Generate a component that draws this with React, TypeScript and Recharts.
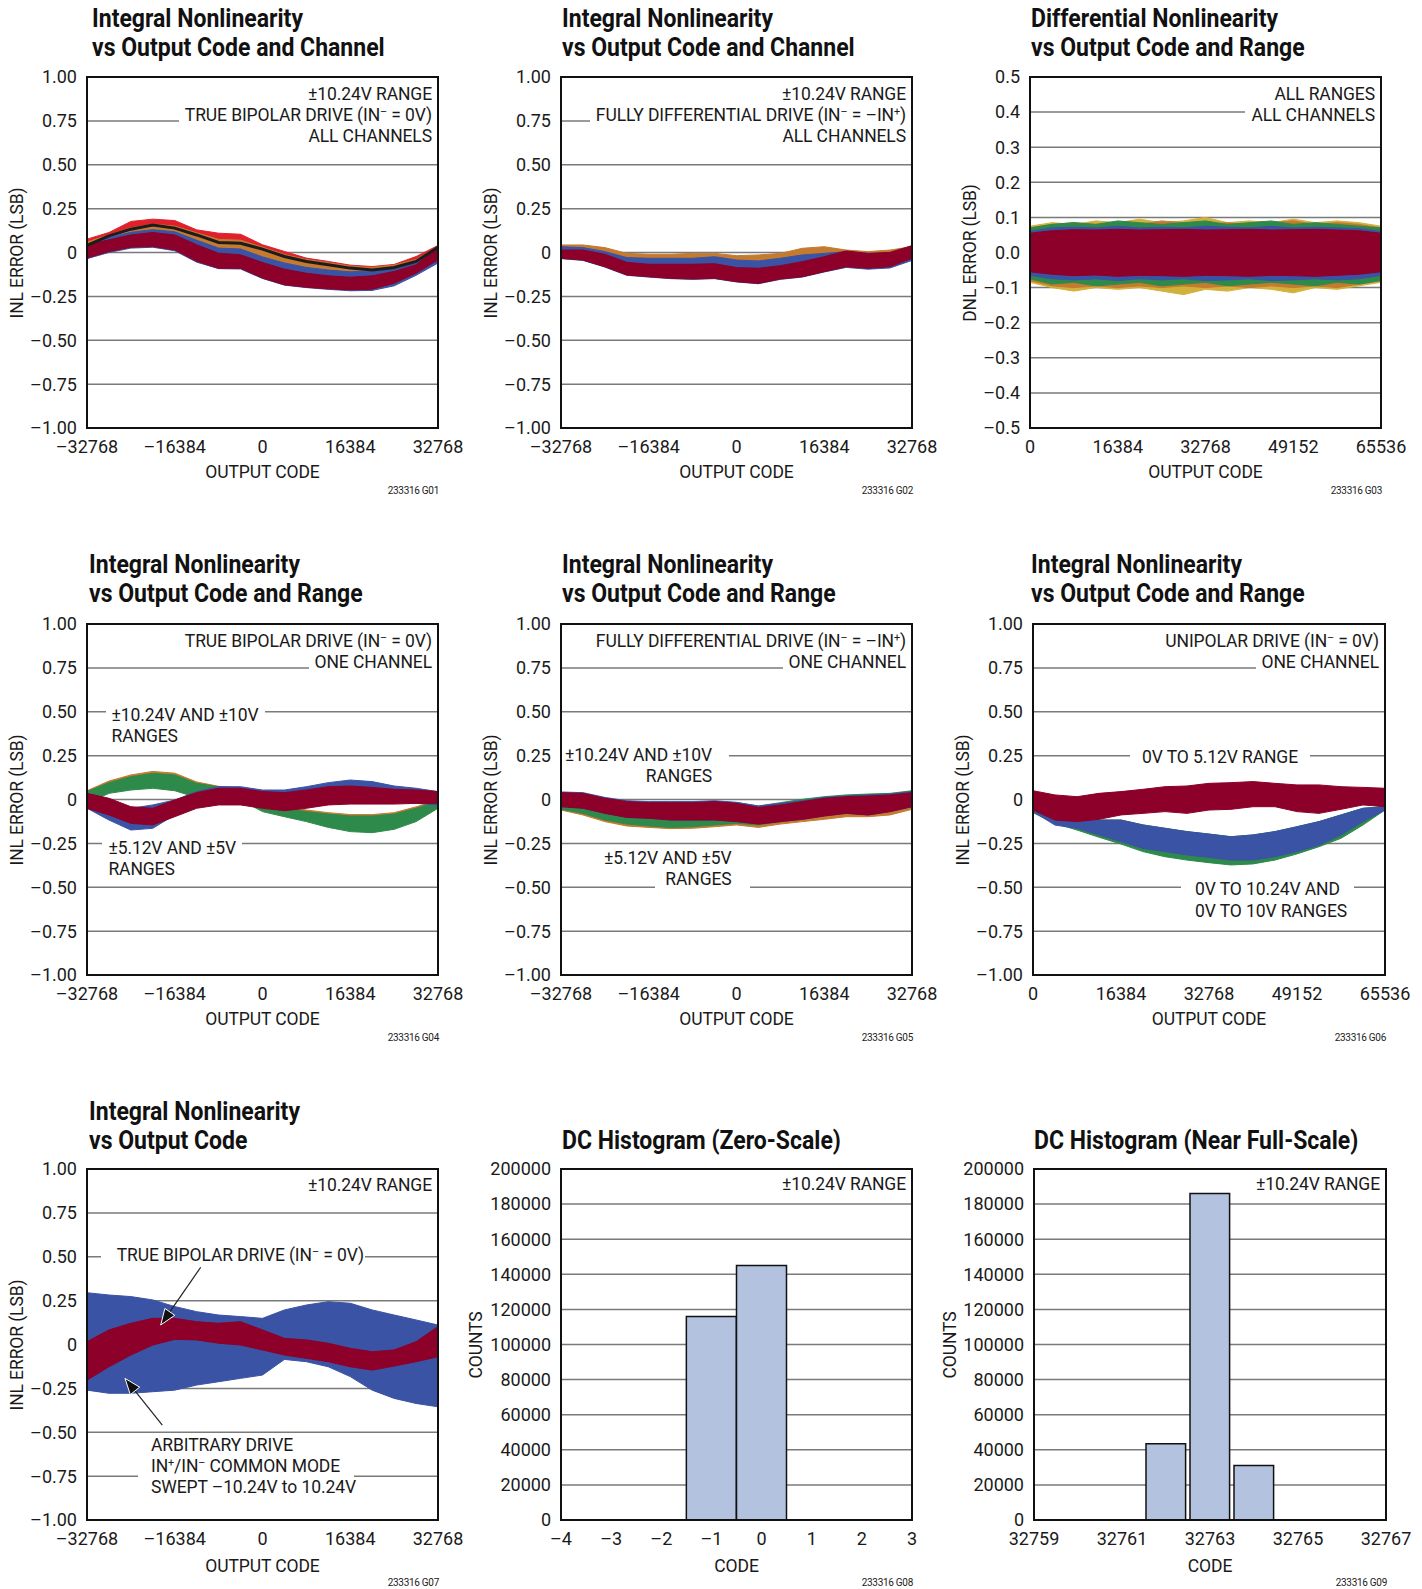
import React from "react";
import {
  ComposedChart,
  Area,
  Line,
  Bar,
  XAxis,
  YAxis,
  CartesianGrid,
  ReferenceLine,
} from "recharts";

const FONT = "Roboto, 'Liberation Sans', sans-serif";

const DARK_RED = "#8c0029";
const BLUE = "#3a53a4";
const RED = "#e0212c";
const ORANGE = "#c47a2f";
const GREEN = "#2e8a4b";
const YELLOW = "#d3b03a";
const BLACK = "#1c1c1c";
const BAR_FILL = "#b2c2df";

// x sample positions (output codes)
const bipolarCodes = [
  -32768, -28672, -24576, -20480, -16384, -12288, -8192, -4096, 0, 4096, 8192,
  12288, 16384, 20480, 24576, 28672, 32768,
];
const unipolarCodes = [
  0, 4096, 8192, 12288, 16384, 20480, 24576, 28672, 32768, 36864, 40960, 45056,
  49152, 53248, 57344, 61440, 65536,
];
const bipolarTicks = [-32768, -16384, 0, 16384, 32768];
const unipolarTicks = [0, 16384, 32768, 49152, 65536];
const inlTicks = [-1, -0.75, -0.5, -0.25, 0, 0.25, 0.5, 0.75, 1];
const dnlTicks = [-0.5, -0.4, -0.3, -0.2, -0.1, 0, 0.1, 0.2, 0.3, 0.4, 0.5];
const countTicks = [
  0, 20000, 40000, 60000, 80000, 100000, 120000, 140000, 160000, 180000, 200000,
];
const zeroTicks = [-4, -3, -2, -1, 0, 1, 2, 3];
const fullTicks = [32759, 32761, 32763, 32765, 32767];

// G01: INL vs code and channel, true bipolar
const g01Top = [0.076, 0.114, 0.177, 0.19, 0.182, 0.129, 0.11, 0.104, 0.044, 0.006, -0.032, -0.051, -0.072, -0.08, -0.068, -0.023, 0.04];
const g01Orange = [0.06, 0.1, 0.14, 0.162, 0.15, 0.112, 0.075, 0.07, 0.03, -0.012, -0.04, -0.058, -0.078, -0.086, -0.072, -0.04, 0.036];
const g01Black = [0.04, 0.095, 0.133, 0.156, 0.139, 0.1, 0.057, 0.053, 0.019, -0.023, -0.051, -0.07, -0.089, -0.099, -0.085, -0.051, 0.03];
const g01BlueHi = [0.045, 0.085, 0.115, 0.13, 0.118, 0.07, 0.025, 0.02, -0.025, -0.06, -0.085, -0.1, -0.11, -0.105, -0.085, -0.05, 0.035];
const g01BlueLo = [-0.035, 0.0, 0.025, 0.03, 0.01, -0.055, -0.092, -0.094, -0.148, -0.186, -0.2, -0.21, -0.218, -0.216, -0.19, -0.13, -0.06];
const g01DarkHi = [0.044, 0.072, 0.1, 0.114, 0.1, 0.044, -0.004, -0.013, -0.057, -0.095, -0.118, -0.133, -0.141, -0.133, -0.108, -0.07, 0.03];
const g01DarkLo = [-0.032, 0.006, 0.03, 0.034, 0.015, -0.05, -0.09, -0.09, -0.146, -0.184, -0.198, -0.207, -0.213, -0.209, -0.175, -0.118, -0.042];

// G02: INL vs code and channel, fully differential
const g02Top = [0.043, 0.043, 0.028, -0.005, -0.01, -0.01, -0.005, -0.005, -0.018, -0.014, -0.005, 0.024, 0.033, 0.014, 0.005, 0.014, 0.033];
const g02BlueHi = [0.033, 0.028, 0.005, -0.029, -0.033, -0.033, -0.033, -0.024, -0.043, -0.048, -0.033, -0.014, -0.005, 0.005, -0.005, -0.005, 0.024];
const g02BlueLo = [-0.035, -0.045, -0.083, -0.13, -0.14, -0.149, -0.153, -0.149, -0.168, -0.178, -0.153, -0.14, -0.111, -0.085, -0.095, -0.088, -0.045];
const g02DarkHi = [0.014, 0.014, -0.01, -0.056, -0.067, -0.067, -0.067, -0.064, -0.086, -0.09, -0.075, -0.052, -0.024, 0.009, -0.005, 0.001, 0.039];
const g02DarkLo = [-0.033, -0.043, -0.081, -0.128, -0.138, -0.147, -0.151, -0.147, -0.166, -0.176, -0.151, -0.138, -0.109, -0.081, -0.09, -0.081, -0.033];

// G03: DNL vs code and range
const g03YellowHi = [0.075, 0.085, 0.08, 0.09, 0.085, 0.095, 0.085, 0.09, 0.1, 0.085, 0.09, 0.085, 0.095, 0.085, 0.09, 0.085, 0.075];
const g03YellowLo = [-0.085, -0.1, -0.11, -0.1, -0.105, -0.1, -0.11, -0.12, -0.105, -0.11, -0.1, -0.105, -0.115, -0.1, -0.105, -0.095, -0.085];
const g03OrangeHi = [0.07, 0.08, 0.085, 0.08, 0.085, 0.08, 0.09, 0.085, 0.08, 0.085, 0.08, 0.085, 0.09, 0.08, 0.085, 0.08, 0.07];
const g03OrangeLo = [-0.08, -0.095, -0.1, -0.095, -0.1, -0.095, -0.1, -0.095, -0.1, -0.095, -0.1, -0.095, -0.1, -0.095, -0.1, -0.09, -0.08];
const g03GreenHi = [0.07, 0.08, 0.085, 0.08, 0.09, 0.085, 0.08, 0.085, 0.09, 0.08, 0.085, 0.09, 0.08, 0.085, 0.08, 0.075, 0.07];
const g03GreenLo = [-0.075, -0.09, -0.085, -0.095, -0.09, -0.085, -0.095, -0.09, -0.085, -0.095, -0.09, -0.085, -0.09, -0.095, -0.085, -0.09, -0.08];
const g03BlueHi = [0.06, 0.07, 0.072, 0.07, 0.075, 0.07, 0.072, 0.07, 0.075, 0.072, 0.07, 0.075, 0.07, 0.072, 0.07, 0.068, 0.06];
const g03BlueLo = [-0.065, -0.075, -0.078, -0.075, -0.08, -0.075, -0.078, -0.075, -0.08, -0.078, -0.075, -0.08, -0.078, -0.075, -0.078, -0.075, -0.065];
const g03DarkHi = [0.055, 0.062, 0.065, 0.064, 0.066, 0.064, 0.065, 0.066, 0.064, 0.065, 0.066, 0.064, 0.065, 0.066, 0.064, 0.062, 0.055];
const g03DarkLo = [-0.055, -0.062, -0.066, -0.064, -0.068, -0.065, -0.066, -0.068, -0.065, -0.066, -0.068, -0.065, -0.066, -0.068, -0.065, -0.062, -0.055];

// G04: INL vs code and range, true bipolar
const g04OrangeHi = [0.05, 0.105, 0.14, 0.16, 0.15, 0.1, 0.075, 0.066, -0.015, -0.042, -0.06, -0.075, -0.086, -0.086, -0.075, -0.042, -0.005];
const g04OrangeLo = [0.0, 0.05, 0.08, 0.1, 0.09, 0.04, 0.02, 0.01, -0.04, -0.07, -0.09, -0.105, -0.115, -0.115, -0.105, -0.07, -0.02];
const g04GreenHi = [0.045, 0.096, 0.13, 0.149, 0.14, 0.092, 0.073, 0.064, -0.022, -0.05, -0.069, -0.083, -0.094, -0.094, -0.083, -0.05, -0.012];
const g04GreenLo = [-0.022, 0.035, 0.054, 0.064, 0.05, 0.012, 0.007, -0.003, -0.069, -0.098, -0.126, -0.159, -0.183, -0.189, -0.17, -0.126, -0.05];
const g04BlueHi = [0.016, -0.022, -0.05, -0.031, -0.003, 0.045, 0.073, 0.073, 0.054, 0.054, 0.073, 0.096, 0.111, 0.102, 0.077, 0.064, 0.045];
const g04BlueLo = [-0.05, -0.117, -0.174, -0.164, -0.088, -0.041, -0.022, -0.022, -0.041, -0.05, -0.041, -0.022, -0.012, -0.012, -0.018, -0.022, -0.031];
const g04DarkHi = [0.035, 0.007, -0.041, -0.05, -0.003, 0.039, 0.064, 0.064, 0.045, 0.039, 0.054, 0.073, 0.077, 0.069, 0.058, 0.054, 0.045];
const g04DarkLo = [-0.05, -0.088, -0.136, -0.145, -0.098, -0.05, -0.031, -0.031, -0.05, -0.064, -0.05, -0.031, -0.026, -0.026, -0.026, -0.022, -0.022];

// G05: INL vs code and range, fully differential
const g05OrangeLo = [-0.06, -0.088, -0.126, -0.151, -0.159, -0.166, -0.164, -0.155, -0.145, -0.159, -0.14, -0.126, -0.113, -0.098, -0.098, -0.088, -0.056];
const g05GreenHi = [0.035, 0.026, -0.003, -0.022, -0.026, -0.022, -0.018, -0.014, -0.018, -0.037, -0.018, 0.001, 0.016, 0.026, 0.031, 0.035, 0.05];
const g05GreenLo = [-0.056, -0.079, -0.117, -0.14, -0.151, -0.159, -0.155, -0.145, -0.136, -0.145, -0.126, -0.107, -0.088, -0.069, -0.069, -0.06, -0.031];
const g05BlueHi = [0.043, 0.039, 0.012, -0.007, -0.012, -0.012, -0.012, -0.007, -0.016, -0.037, -0.022, -0.007, 0.012, 0.02, 0.026, 0.031, 0.045];
const g05DarkHi = [0.039, 0.035, 0.007, -0.012, -0.018, -0.018, -0.018, -0.012, -0.022, -0.045, -0.031, -0.012, 0.007, 0.016, 0.02, 0.026, 0.039];
const g05DarkLo = [-0.041, -0.05, -0.079, -0.102, -0.107, -0.117, -0.117, -0.117, -0.126, -0.14, -0.126, -0.113, -0.094, -0.079, -0.088, -0.069, -0.041];

// G06: INL vs code and range, unipolar
const g06GreenLo = [-0.075, -0.136, -0.174, -0.215, -0.254, -0.297, -0.326, -0.345, -0.36, -0.373, -0.367, -0.345, -0.31, -0.269, -0.221, -0.145, -0.06];
const g06BlueHi = [-0.041, -0.098, -0.117, -0.117, -0.117, -0.145, -0.164, -0.183, -0.197, -0.212, -0.202, -0.183, -0.155, -0.126, -0.088, -0.05, -0.041];
const g06BlueLo = [-0.069, -0.146, -0.164, -0.202, -0.24, -0.279, -0.297, -0.316, -0.33, -0.345, -0.345, -0.326, -0.297, -0.26, -0.202, -0.126, -0.06];
const g06DarkHi = [0.05, 0.026, 0.016, 0.035, 0.045, 0.058, 0.073, 0.077, 0.092, 0.096, 0.102, 0.092, 0.083, 0.083, 0.073, 0.069, 0.064];
const g06DarkLo = [-0.06, -0.117, -0.126, -0.113, -0.088, -0.079, -0.069, -0.079, -0.06, -0.056, -0.041, -0.041, -0.069, -0.079, -0.056, -0.031, -0.041];

// G07: INL vs code, arbitrary vs true bipolar drive
const g07BlueHi = [0.295, 0.282, 0.273, 0.254, 0.216, 0.187, 0.168, 0.159, 0.149, 0.197, 0.225, 0.244, 0.235, 0.197, 0.168, 0.14, 0.111];
const g07BlueLo = [-0.26, -0.278, -0.278, -0.269, -0.26, -0.231, -0.212, -0.193, -0.174, -0.085, -0.098, -0.127, -0.183, -0.26, -0.307, -0.336, -0.355];
const g07DarkHi = [0.016, 0.083, 0.121, 0.149, 0.149, 0.13, 0.121, 0.13, 0.083, 0.035, 0.026, 0.007, -0.022, -0.041, -0.031, 0.016, 0.102];
const g07DarkLo = [-0.203, -0.127, -0.06, -0.003, 0.029, 0.026, 0.007, -0.003, -0.031, -0.06, -0.079, -0.098, -0.127, -0.146, -0.123, -0.098, -0.07];

// G08 / G09: DC histograms
const zeroCodes = [-1, 0];
const zeroCounts = [116000, 145000];
const fullCodes = [32762, 32763, 32764];
const fullCounts = [43500, 186000, 31000];

// arrow annotations in G07 (tail, tip) in data units
const arrowBipolar = [
  { x: -11539, y: 0.44 },
  { x: -19008, y: 0.111 },
];
const arrowArbitrary = [
  { x: -18709, y: -0.459 },
  { x: -25673, y: -0.193 },
];

type Range = [number[], number[]];

function buildRows(
  codes: number[],
  bands: Record<string, Range>,
  lines: Record<string, number[]> = {}
) {
  return codes.map((code, i) => {
    const row: Record<string, any> = { code };
    Object.keys(bands).forEach((k) => {
      row[k] = [bands[k][0][i], bands[k][1][i]];
    });
    Object.keys(lines).forEach((k) => {
      row[k] = lines[k][i];
    });
    return row;
  });
}

const g01Rows = buildRows(
  bipolarCodes,
  {
    red: [g01DarkHi, g01Top],
    orange: [g01DarkHi, g01Orange],
    blue: [g01BlueLo, g01BlueHi],
    dark: [g01DarkLo, g01DarkHi],
  },
  { black: g01Black }
);
const g02Rows = buildRows(bipolarCodes, {
  orange: [g02DarkHi, g02Top],
  blue: [g02BlueLo, g02BlueHi],
  dark: [g02DarkLo, g02DarkHi],
});
const g03Rows = buildRows(unipolarCodes, {
  yellow: [g03YellowLo, g03YellowHi],
  orange: [g03OrangeLo, g03OrangeHi],
  green: [g03GreenLo, g03GreenHi],
  blue: [g03BlueLo, g03BlueHi],
  dark: [g03DarkLo, g03DarkHi],
});
const g04Rows = buildRows(bipolarCodes, {
  orange: [g04OrangeLo, g04OrangeHi],
  green: [g04GreenLo, g04GreenHi],
  blue: [g04BlueLo, g04BlueHi],
  dark: [g04DarkLo, g04DarkHi],
});
const g05Rows = buildRows(bipolarCodes, {
  orange: [g05OrangeLo, g05DarkHi],
  green: [g05GreenLo, g05GreenHi],
  blue: [g05DarkLo, g05BlueHi],
  dark: [g05DarkLo, g05DarkHi],
});
const g06Rows = buildRows(unipolarCodes, {
  green: [g06GreenLo, g06BlueHi],
  blue: [g06BlueLo, g06BlueHi],
  dark: [g06DarkLo, g06DarkHi],
});
const g07Rows = buildRows(bipolarCodes, {
  blue: [g07BlueLo, g07BlueHi],
  dark: [g07DarkLo, g07DarkHi],
});
const g08Rows = zeroCodes.map((code, i) => ({ code, counts: zeroCounts[i] }));
const g09Rows = fullCodes.map((code, i) => ({ code, counts: fullCounts[i] }));

const dash = (s: string) => s.replace("-", "\u2013");
const fmtCode = (v: number) => dash(String(v));
const fmtInl = (v: number) => (v === 0 ? "0" : dash(v.toFixed(2)));
const fmtDnl = (v: number) => dash(v.toFixed(1));
const fmtCount = (v: number) => String(v);

const band = (key: string, color: string) => (
  <Area
    key={key}
    type="linear"
    dataKey={key}
    stroke={color}
    strokeWidth={1}
    fill={color}
    fillOpacity={1}
    dot={false}
    activeDot={false}
    isAnimationActive={false}
  />
);

const Sup = ({ children }: { children: React.ReactNode }) => (
  <span style={{ fontSize: "0.62em", verticalAlign: "0.6em", lineHeight: 0 }}>
    {children}
  </span>
);

const arrowShape = (p: any) => {
  const { x1, y1, x2, y2 } = p;
  const a = Math.atan2(y2 - y1, x2 - x1);
  const len = 16;
  const half = 6;
  const bx = x2 - len * Math.cos(a);
  const by = y2 - len * Math.sin(a);
  const nx = -Math.sin(a) * half;
  const ny = Math.cos(a) * half;
  return (
    <g>
      <line x1={x1} y1={y1} x2={bx} y2={by} stroke="#222" strokeWidth={1.2} />
      <polygon
        points={`${x2},${y2} ${bx + nx},${by + ny} ${bx - nx},${by - ny}`}
        fill="#111"
        stroke="#fff"
        strokeWidth={1}
      />
    </g>
  );
};

type Note = {
  lines: React.ReactNode[];
  top: number;
  left?: number;
  right?: number;
  align: "left" | "right";
  pad: string;
  lineH?: number;
};

type PanelProps = {
  x: number;
  y: number;
  w: number;
  h: number;
  title: string[];
  titleX: number;
  titleY: number;
  yLabel: string;
  yLabelX: number;
  xLabel: string;
  xLabelDy: number;
  fig: string;
  data: any[];
  xDomain: [number, number];
  xTicks: number[];
  xFmt: (v: number) => string;
  yDomain: [number, number];
  yTicks: number[];
  yFmt: (v: number) => string;
  series: React.ReactNode[];
  notes: Note[];
};

const tickStyle = { fontSize: 18, fill: "#1a1a1a", fontFamily: FONT };
const textStyle: React.CSSProperties = {
  fontSize: 17.5,
  letterSpacing: "-0.1px",
  color: "#1a1a1a",
  whiteSpace: "nowrap",
};

function Panel(p: PanelProps) {
  return (
    <>
      <div
        style={{
          position: "absolute",
          left: p.titleX,
          top: p.titleY,
          fontSize: 26,
          fontWeight: 700,
          lineHeight: "28.5px",
          whiteSpace: "nowrap",
          color: "#111",
        }}
      >
        {p.title.map((t) => (
          <div key={t}>
            <span
              style={{
                display: "inline-block",
                transform: "scaleX(0.885)",
                transformOrigin: "0 0",
              }}
            >
              {t}
            </span>
          </div>
        ))}
      </div>
      <div style={{ position: "absolute", left: p.x - 80, top: p.y - 20 }}>
        <ComposedChart
          width={p.w + 140}
          height={p.h + 60}
          data={p.data}
          margin={{ top: 20, right: 60, bottom: 0, left: 0 }}
          barCategoryGap={0}
          barGap={0}
        >
          <CartesianGrid vertical={false} stroke="#7a7a7a" strokeWidth={1.5} />
          <XAxis
            dataKey="code"
            type="number"
            domain={p.xDomain}
            ticks={p.xTicks}
            tickFormatter={p.xFmt}
            interval={0}
            allowDataOverflow
            height={40}
            axisLine={false}
            tickLine={false}
            tickSize={6}
            tickMargin={6}
            tick={tickStyle}
          />
          <YAxis
            type="number"
            domain={p.yDomain}
            ticks={p.yTicks}
            tickFormatter={p.yFmt}
            interval={0}
            allowDataOverflow
            width={80}
            axisLine={false}
            tickLine={false}
            tickSize={6}
            tickMargin={4}
            tick={tickStyle}
          />
          {p.series}
        </ComposedChart>
      </div>
      <div
        style={{
          position: "absolute",
          left: p.x,
          top: p.y,
          width: p.w,
          height: p.h,
          ...textStyle,
        }}
      >
        {p.notes.map((n, i) => (
          <div
            key={i}
            style={{
              position: "absolute",
              top: n.top,
              left: n.left,
              right: n.right,
              textAlign: n.align,
              lineHeight: `${n.lineH ?? 21}px`,
            }}
          >
            {n.lines.map((l, j) => (
              <div key={j}>
                <span
                  style={{
                    background: "#fff",
                    padding: n.pad,
                    display: "inline-block",
                  }}
                >
                  {l}
                </span>
              </div>
            ))}
          </div>
        ))}
        <div
          style={{
            position: "absolute",
            left: -1,
            top: -1,
            width: p.w + 2,
            height: p.h + 2,
            border: "2px solid #111",
            boxSizing: "border-box",
          }}
        />
      </div>
      <div
        style={{
          position: "absolute",
          left: p.yLabelX,
          top: p.y + p.h / 2,
          transform: "translate(-50%, -50%) rotate(-90deg)",
          ...textStyle,
        }}
      >
        {p.yLabel}
      </div>
      <div
        style={{
          position: "absolute",
          left: p.x + p.w / 2,
          top: p.y + p.h + p.xLabelDy,
          transform: "translate(-50%, -50%)",
          ...textStyle,
        }}
      >
        {p.xLabel}
      </div>
      <div
        style={{
          position: "absolute",
          right: 1422 - (p.x + p.w + 1),
          top: p.y + p.h + 57,
          fontSize: 10,
          letterSpacing: "-0.3px",
          whiteSpace: "nowrap",
          color: "#222",
        }}
      >
        {p.fig}
      </div>
    </>
  );
}

const bipolarInl = {
  xDomain: [-32768, 32768] as [number, number],
  xTicks: bipolarTicks,
  xFmt: fmtCode,
  yDomain: [-1, 1] as [number, number],
  yTicks: inlTicks,
  yFmt: fmtInl,
  yLabel: "INL ERROR (LSB)",
  xLabel: "OUTPUT CODE",
  w: 351,
  h: 351,
};

const rangeNote = (top: number): Note => ({
  lines: ["\u00b110.24V RANGE"],
  top,
  right: 0,
  align: "right",
  pad: "0 6px",
});

export default function App() {
  return (
    <div
      style={{
        position: "absolute",
        left: 0,
        top: 0,
        width: 1422,
        height: 1589,
        background: "#fff",
        fontFamily: FONT,
        overflow: "hidden",
      }}
    >
      <Panel
        {...bipolarInl}
        x={87}
        y={77}
        title={["Integral Nonlinearity", "vs Output Code and Channel"]}
        titleX={92}
        titleY={4}
        yLabelX={17}
        xLabelDy={44}
        fig="233316 G01"
        data={g01Rows}
        series={[
          band("red", RED),
          band("orange", ORANGE),
          <Line
            key="black"
            type="linear"
            dataKey="black"
            stroke={BLACK}
            strokeWidth={3}
            dot={false}
            activeDot={false}
            isAnimationActive={false}
          />,
          band("blue", BLUE),
          band("dark", DARK_RED),
        ]}
        notes={[
          {
            lines: [
              "\u00b110.24V RANGE",
              <>
                TRUE BIPOLAR DRIVE (IN<Sup>{"\u2013"}</Sup> = 0V)
              </>,
              "ALL CHANNELS",
            ],
            top: 6.5,
            right: 0,
            align: "right",
            pad: "0 6px",
          },
        ]}
      />
      <Panel
        {...bipolarInl}
        x={561}
        y={77}
        title={["Integral Nonlinearity", "vs Output Code and Channel"]}
        titleX={562}
        titleY={4}
        yLabelX={491}
        xLabelDy={44}
        fig="233316 G02"
        data={g02Rows}
        series={[band("orange", ORANGE), band("blue", BLUE), band("dark", DARK_RED)]}
        notes={[
          {
            lines: [
              "\u00b110.24V RANGE",
              <>
                FULLY DIFFERENTIAL DRIVE (IN<Sup>{"\u2013"}</Sup> = {"\u2013"}IN
                <Sup>+</Sup>)
              </>,
              "ALL CHANNELS",
            ],
            top: 6.5,
            right: 0,
            align: "right",
            pad: "0 6px",
          },
        ]}
      />
      <Panel
        x={1030}
        y={77}
        w={351}
        h={351}
        title={["Differential Nonlinearity", "vs Output Code and Range"]}
        titleX={1031}
        titleY={4}
        yLabel="DNL ERROR (LSB)"
        yLabelX={970}
        xLabel="OUTPUT CODE"
        xLabelDy={44}
        fig="233316 G03"
        data={g03Rows}
        xDomain={[0, 65536]}
        xTicks={unipolarTicks}
        xFmt={fmtCode}
        yDomain={[-0.5, 0.5]}
        yTicks={dnlTicks}
        yFmt={fmtDnl}
        series={[
          band("yellow", YELLOW),
          band("orange", ORANGE),
          band("green", GREEN),
          band("blue", BLUE),
          band("dark", DARK_RED),
        ]}
        notes={[
          {
            lines: ["ALL RANGES", "ALL CHANNELS"],
            top: 6.5,
            right: 0,
            align: "right",
            pad: "0 6px",
          },
        ]}
      />
      <Panel
        {...bipolarInl}
        x={87}
        y={624}
        title={["Integral Nonlinearity", "vs Output Code and Range"]}
        titleX={89}
        titleY={550}
        yLabelX={17}
        xLabelDy={44}
        fig="233316 G04"
        data={g04Rows}
        series={[
          band("orange", ORANGE),
          band("green", GREEN),
          band("blue", BLUE),
          band("dark", DARK_RED),
        ]}
        notes={[
          {
            lines: [
              <>
                TRUE BIPOLAR DRIVE (IN<Sup>{"\u2013"}</Sup> = 0V)
              </>,
              "ONE CHANNEL",
            ],
            top: 7,
            right: 0,
            align: "right",
            pad: "0 6px",
          },
          {
            lines: ["\u00b110.24V AND \u00b110V", "RANGES"],
            top: 81,
            left: 18.5,
            align: "left",
            pad: "0 6px",
          },
          {
            lines: ["\u00b15.12V AND \u00b15V", "RANGES"],
            top: 213.8,
            left: 15.4,
            align: "left",
            pad: "0 6px",
          },
        ]}
      />
      <Panel
        {...bipolarInl}
        x={561}
        y={624}
        title={["Integral Nonlinearity", "vs Output Code and Range"]}
        titleX={562}
        titleY={550}
        yLabelX={491}
        xLabelDy={44}
        fig="233316 G05"
        data={g05Rows}
        series={[
          band("orange", ORANGE),
          band("green", GREEN),
          band("blue", BLUE),
          band("dark", DARK_RED),
        ]}
        notes={[
          {
            lines: [
              <>
                FULLY DIFFERENTIAL DRIVE (IN<Sup>{"\u2013"}</Sup> = {"\u2013"}IN
                <Sup>+</Sup>)
              </>,
              "ONE CHANNEL",
            ],
            top: 7,
            right: 0,
            align: "right",
            pad: "0 6px",
          },
          {
            lines: ["\u00b110.24V AND \u00b110V", "RANGES"],
            top: 120.5,
            left: 1,
            align: "right",
            pad: "0 17px 0 3px",
          },
          {
            lines: ["\u00b15.12V AND \u00b15V", "RANGES"],
            top: 224,
            left: 33,
            align: "right",
            pad: "0 18px 0 10px",
          },
        ]}
      />
      <Panel
        x={1033}
        y={624}
        w={352}
        h={351}
        title={["Integral Nonlinearity", "vs Output Code and Range"]}
        titleX={1031}
        titleY={550}
        yLabel="INL ERROR (LSB)"
        yLabelX={963}
        xLabel="OUTPUT CODE"
        xLabelDy={44}
        fig="233316 G06"
        data={g06Rows}
        xDomain={[0, 65536]}
        xTicks={unipolarTicks}
        xFmt={fmtCode}
        yDomain={[-1, 1]}
        yTicks={inlTicks}
        yFmt={fmtInl}
        series={[band("green", GREEN), band("blue", BLUE), band("dark", DARK_RED)]}
        notes={[
          {
            lines: [
              <>
                UNIPOLAR DRIVE (IN<Sup>{"\u2013"}</Sup> = 0V)
              </>,
              "ONE CHANNEL",
            ],
            top: 7,
            right: 0,
            align: "right",
            pad: "0 6px",
          },
          {
            lines: ["0V TO 5.12V RANGE"],
            top: 122.5,
            left: 97,
            align: "left",
            pad: "0 12px",
          },
          {
            lines: ["0V TO 10.24V AND", "0V TO 10V RANGES"],
            top: 254.3,
            left: 148,
            align: "left",
            pad: "0 14px",
            lineH: 22,
          },
        ]}
      />
      <Panel
        {...bipolarInl}
        x={87}
        y={1169}
        title={["Integral Nonlinearity", "vs Output Code"]}
        titleX={89}
        titleY={1097}
        yLabelX={17}
        xLabelDy={46}
        fig="233316 G07"
        data={g07Rows}
        series={[
          band("blue", BLUE),
          band("dark", DARK_RED),
          <ReferenceLine
            key="a1"
            segment={arrowBipolar}
            ifOverflow="visible"
            shape={arrowShape}
          />,
          <ReferenceLine
            key="a2"
            segment={arrowArbitrary}
            ifOverflow="visible"
            shape={arrowShape}
          />,
        ]}
        notes={[
          rangeNote(6.3),
          {
            lines: [
              <>
                TRUE BIPOLAR DRIVE (IN<Sup>{"\u2013"}</Sup> = 0V)
              </>,
            ],
            top: 75.5,
            left: 13.7,
            align: "left",
            pad: "0 1px 0 16px",
          },
          {
            lines: [
              "ARBITRARY DRIVE",
              <>
                IN<Sup>+</Sup>/IN<Sup>{"\u2013"}</Sup> COMMON MODE
              </>,
              "SWEPT \u201310.24V to 10.24V",
            ],
            top: 265.5,
            left: 51,
            align: "left",
            pad: "0 14px 0 13px",
          },
        ]}
      />
      <Panel
        x={561}
        y={1169}
        w={351}
        h={351}
        title={["DC Histogram (Zero-Scale)"]}
        titleX={562}
        titleY={1126}
        yLabel="COUNTS"
        yLabelX={476}
        xLabel="CODE"
        xLabelDy={46}
        fig="233316 G08"
        data={g08Rows}
        xDomain={[-4, 3]}
        xTicks={zeroTicks}
        xFmt={fmtCode}
        yDomain={[0, 200000]}
        yTicks={countTicks}
        yFmt={fmtCount}
        series={[
          <Bar
            key="counts"
            dataKey="counts"
            fill={BAR_FILL}
            stroke="#111"
            strokeWidth={1.5}
            barSize={50}
            isAnimationActive={false}
          />,
        ]}
        notes={[rangeNote(4.5)]}
      />
      <Panel
        x={1034}
        y={1169}
        w={352}
        h={351}
        title={["DC Histogram (Near Full-Scale)"]}
        titleX={1034}
        titleY={1126}
        yLabel="COUNTS"
        yLabelX={950}
        xLabel="CODE"
        xLabelDy={46}
        fig="233316 G09"
        data={g09Rows}
        xDomain={[32759, 32767]}
        xTicks={fullTicks}
        xFmt={fmtCode}
        yDomain={[0, 200000]}
        yTicks={countTicks}
        yFmt={fmtCount}
        series={[
          <Bar
            key="counts"
            dataKey="counts"
            fill={BAR_FILL}
            stroke="#111"
            strokeWidth={1.5}
            barSize={44}
            isAnimationActive={false}
          />,
        ]}
        notes={[rangeNote(4.5)]}
      />
    </div>
  );
}
